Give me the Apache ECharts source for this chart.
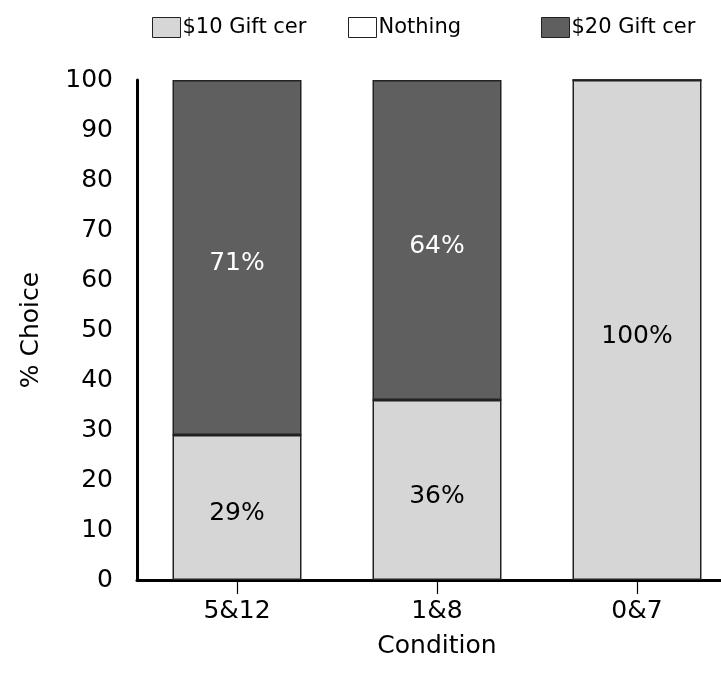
<!DOCTYPE html>
<html><head><meta charset="utf-8">
<script src="https://cdn.jsdelivr.net/npm/echarts@6/dist/echarts.min.js"></script>
<style>html,body{margin:0;padding:0;background:#fff;overflow:hidden;width:721px;height:696px}#c{width:740px;height:696px}</style>
</head><body><div id="c"></div>
<script>
const categories = ['5&12', '1&8', '0&7'];
const seriesNames = ['$10 Gift cer', 'Nothing', '$20 Gift cer'];
const gift10 = [29, 36, 100];
const nothing = [0, 0, 0];
const gift20 = [71, 64, 0];
const yTicks = [0, 10, 20, 30, 40, 50, 60, 70, 80, 90, 100];

const FONT = 'DejaVu Sans';
const colors = ['#d6d6d6', '#ffffff', '#5f5f5f'];
const labelColors = ['#000', '#000', '#fff'];
const values = [gift10, nothing, gift20];

const chart = echarts.init(document.getElementById('c'), null, {renderer: 'canvas'});
const legendLefts = [147, 343, 536];
const legends = seriesNames.map((n, i) => ({
  data: [n], left: legendLefts[i], top: 12, itemWidth: 28, itemHeight: 20, itemGap: 2,
  icon: 'rect', selectedMode: false,
  textStyle: {fontFamily: FONT, fontSize: 21, color: '#000', padding: [0, 0, 0, -3]},
  itemStyle: {borderColor: '#222', borderWidth: 1}
}));

chart.setOption({
  animation: false,
  textStyle: {fontFamily: FONT},
  legend: legends,
  grid: {left: 137, top: 80, width: 600, bottom: 116, containLabel: false},
  xAxis: {
    type: 'category', data: categories,
    name: 'Condition', nameLocation: 'middle', nameGap: 54,
    nameTextStyle: {fontFamily: FONT, fontSize: 25, color: '#000'},
    axisLine: {lineStyle: {color: '#000', width: 3}},
    axisTick: {show: true, alignWithLabel: true, length: 14, lineStyle: {color: '#000', width: 1.2}},
    axisLabel: {fontFamily: FONT, fontSize: 25, color: '#000', margin: 19}
  },
  yAxis: {
    type: 'value', min: yTicks[0], max: yTicks[yTicks.length - 1], interval: 10,
    name: '% Choice', nameLocation: 'middle', nameGap: 93,
    nameTextStyle: {fontFamily: FONT, fontSize: 25, color: '#000'},
    axisLine: {show: true, lineStyle: {color: '#000', width: 3}},
    axisTick: {show: false},
    splitLine: {show: false},
    axisLabel: {fontFamily: FONT, fontSize: 25, color: '#000', margin: 24, padding: [9, 0, 0, 0]}
  },
  series: seriesNames.map((n, i) => ({
    name: n, type: 'bar', stack: 'total', data: values[i], barWidth: 129,
    itemStyle: {color: colors[i], borderColor: '#222', borderWidth: 1.5},
    label: {
      show: true, position: 'inside', offset: [0, 6], fontFamily: FONT, fontSize: 25, color: labelColors[i],
      formatter: p => p.value > 0 ? p.value + '%' : ''
    }
  }))
});
</script></body></html>
